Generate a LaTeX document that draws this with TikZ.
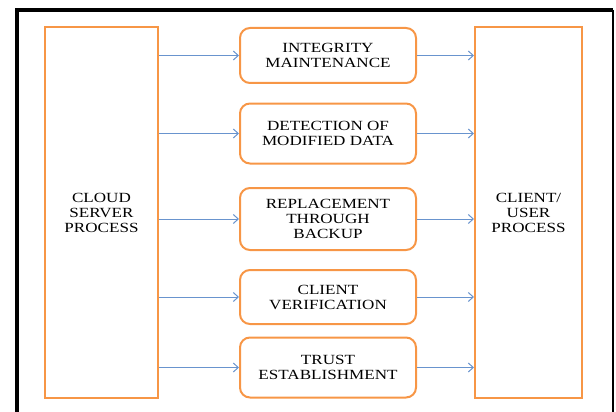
\documentclass[tikz,border=0pt]{standalone}
\usepackage{fontspec}
\usetikzlibrary{arrows.meta, positioning}
\newfontfamily\boxfont[FakeStretch=1.22]{Liberation Serif}
\definecolor{boxorange}{RGB}{247,150,70}
\definecolor{flowblue}{RGB}{105,148,206}

\begin{document}
\begin{tikzpicture}[x=1pt,y=-1pt,
    side/.style={draw=boxorange, line width=2pt, align=center,
      font=\boxfont\fontsize{14}{15}\selectfont},
    task/.style={side, rounded corners=10pt, minimum width=176pt},
    flow/.style={draw=flowblue, line width=1pt, ->},
    >={Straight Barb[length=5pt,width=9pt]}]
  \useasboundingbox (0,0) rectangle (616,412);

  % frame round the page
  \draw[line width=4pt] (17,416) -- (17,10) -- (613,10);
  \draw[line width=1.5pt] (613,10) -- (613,416);

  % both ends
  \node[side, minimum width=113pt, minimum height=370pt] (cloud) at (101.5,212.5) {CLOUD\\SERVER\\PROCESS};
  \node[side, minimum width=107pt, minimum height=370pt] (client) at (528.5,212.5) {CLIENT/\\USER\\PROCESS};

  % steps in between
  \node[task, minimum height=55pt] (integrity) at (328,55.5) {INTEGRITY\\MAINTENANCE};
  \node[task, minimum height=60pt] (detect) at (328,133.5) {DETECTION OF\\MODIFIED DATA};
  \node[task, minimum height=62pt] (backup) at (328,219) {REPLACEMENT\\THROUGH\\BACKUP};
  \node[task, minimum height=54pt] (verify) at (328,297) {CLIENT\\VERIFICATION};
  \node[task, minimum height=60pt] (trust) at (328,367.5) {TRUST\\ESTABLISHMENT};

  \foreach \s in {integrity, detect, backup, verify, trust} {
    \draw[flow] (\s.west -| cloud.east) -- (\s.west);
    \draw[flow] (\s.east) -- (\s.east -| client.west);
  }
\end{tikzpicture}
\end{document}
